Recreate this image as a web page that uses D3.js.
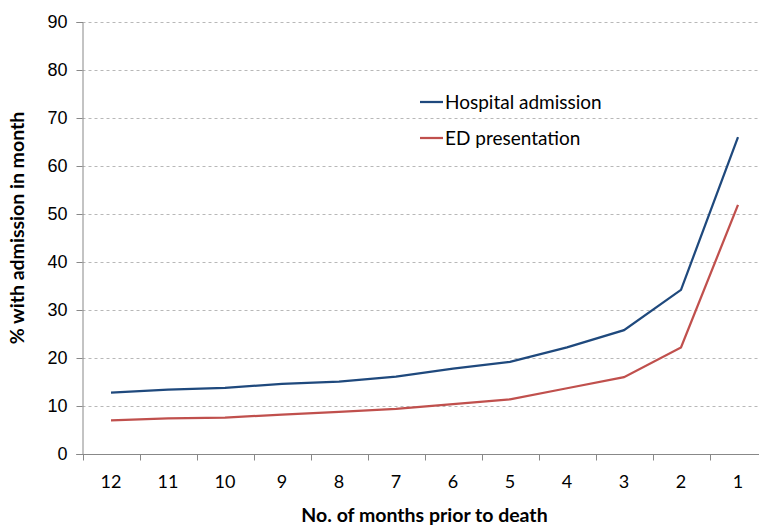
<!DOCTYPE html>
<html>
<head>
<meta charset="utf-8">
<script src="https://cdn.jsdelivr.net/npm/d3@7"></script>
<style>
  body { margin: 0; background: #fff; }
  svg { display: block; font-family: Lato, "Open Sans", sans-serif; }
</style>
</head>
<body>
<svg id="chart"></svg>
<script>
// Chart data
const months = ['12', '11', '10', '9', '8', '7', '6', '5', '4', '3', '2', '1'];
const hospital = [12.8, 13.4, 13.8, 14.6, 15.1, 16.1, 17.8, 19.2, 22.2, 25.8, 34.2, 66.0];
const edPresentation = [7.0, 7.4, 7.6, 8.2, 8.8, 9.4, 10.4, 11.4, 13.7, 16.0, 22.2, 51.9];
const yTicks = [0, 10, 20, 30, 40, 50, 60, 70, 80, 90];

const width = 759;
const height = 527;
const margin = {left: 82.5, top: 22, bottom: 73};
const plotRight = 766.5; // plot area runs slightly past the window edge

const svg = d3.select('#chart')
    .attr('width', width)
    .attr('height', height);

const x = d3.scaleBand()
    .domain(months)
    .range([margin.left, plotRight]);

const y = d3.scaleLinear()
    .domain([0, 90])
    .range([height - margin.bottom, margin.top]);

// Gridlines
svg.append('g')
    .selectAll('line')
    .data(yTicks.filter(d => d > 0))
    .enter()
    .append('line')
    .attr('x1', margin.left)
    .attr('x2', plotRight)
    .attr('y1', d => Math.round(y(d)) + 0.5)
    .attr('y2', d => Math.round(y(d)) + 0.5)
    .attr('stroke', '#b8b8b8')
    .attr('stroke-dasharray', '3,3');

// Y axis
const yAxis = svg.append('g')
    .attr('transform', `translate(${margin.left},0)`)
    .call(d3.axisLeft(y).tickValues(yTicks).tickSize(6).tickPadding(9));
yAxis.select('.domain').attr('stroke', '#888');
yAxis.selectAll('.tick line').attr('stroke', '#888');
yAxis.selectAll('.tick text').attr('font-size', 18).attr('fill', '#000');

// X axis with ticks on band edges
const xAxisG = svg.append('g')
    .attr('transform', `translate(0,${Math.round(y(0)) + 0.5})`);
xAxisG.append('line')
    .attr('x1', margin.left - 6)
    .attr('x2', plotRight)
    .attr('stroke', '#888');
xAxisG.selectAll('.edge')
    .data(months)
    .enter()
    .append('line')
    .attr('x1', d => Math.round(x(d)) + 0.5)
    .attr('x2', d => Math.round(x(d)) + 0.5)
    .attr('y1', 0)
    .attr('y2', 6)
    .attr('stroke', '#888');
xAxisG.selectAll('text')
    .data(months)
    .enter()
    .append('text')
    .attr('x', d => x(d) + x.bandwidth() / 2)
    .attr('y', 33)
    .attr('text-anchor', 'middle')
    .attr('font-size', 18)
    .text(d => d);

// Lines
const line = d3.line()
    .x((d, i) => x(months[i]) + x.bandwidth() / 2)
    .y(d => y(d));

const series = [
    {name: 'Hospital admission', values: hospital, color: '#1f497d'},
    {name: 'ED presentation', values: edPresentation, color: '#c0504d'}
];

svg.append('g')
    .selectAll('path')
    .data(series)
    .enter()
    .append('path')
    .attr('d', d => line(d.values))
    .attr('fill', 'none')
    .attr('stroke', d => d.color)
    .attr('stroke-width', 2.25);

// Legend
const legend = svg.append('g')
    .selectAll('g')
    .data(series)
    .enter()
    .append('g')
    .attr('transform', (d, i) => `translate(420,${102 + i * 36})`);
legend.append('line')
    .attr('x1', 0)
    .attr('x2', 23)
    .attr('stroke', d => d.color)
    .attr('stroke-width', 2.25);
legend.append('text')
    .attr('x', 25)
    .attr('y', 6.5)
    .attr('font-size', 19)
    .text(d => d.name);

// Axis titles
svg.append('text')
    .attr('transform', `translate(24,228) rotate(-90)`)
    .attr('text-anchor', 'middle')
    .attr('font-size', 19.5)
    .attr('font-weight', 'bold')
    .text('% with admission in month');

svg.append('text')
    .attr('x', (margin.left + plotRight) / 2)
    .attr('y', 522)
    .attr('text-anchor', 'middle')
    .attr('font-size', 19.5)
    .attr('font-weight', 'bold')
    .text('No. of months prior to death');
</script>
</body>
</html>
